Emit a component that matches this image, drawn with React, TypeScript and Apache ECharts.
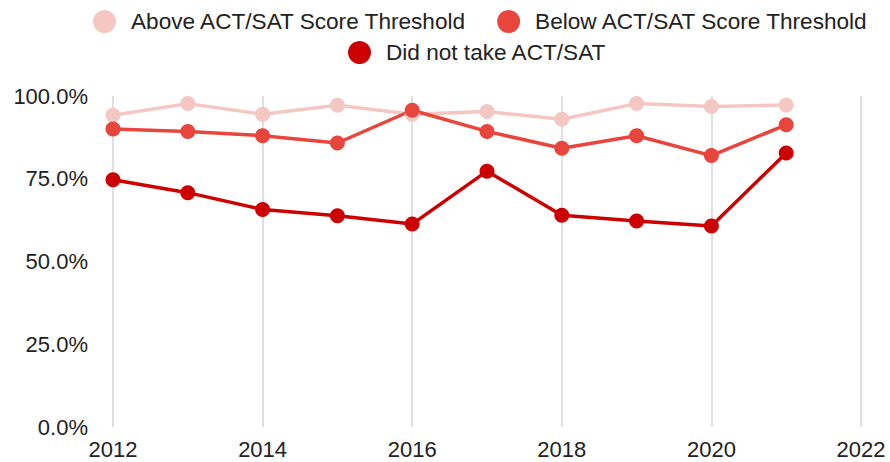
import React, { useEffect, useRef } from "react";
import * as echarts from "echarts";

const years = [2012, 2013, 2014, 2015, 2016, 2017, 2018, 2019, 2020, 2021];
const aboveThreshold = [94.2, 97.7, 94.5, 97.2, 94.5, 95.3, 93.0, 97.7, 96.8, 97.3];
const belowThreshold = [90.0, 89.3, 88.0, 85.8, 95.7, 89.3, 84.2, 88.0, 82.0, 91.3];
const didNotTake = [74.7, 70.8, 65.7, 63.8, 61.3, 77.3, 64.0, 62.2, 60.7, 82.8];
const seriesNames = [
  "Above ACT/SAT Score Threshold",
  "Below ACT/SAT Score Threshold",
  "Did not take ACT/SAT",
];
const colors = ["#f4c7c3", "#e8453c", "#cc0000"];

const FONT = "'Liberation Sans', Arial, sans-serif";

export default function App() {
  const ref = useRef<HTMLDivElement>(null);
  useEffect(() => {
    if (!ref.current) return;
    const chart = echarts.init(ref.current, undefined, { renderer: "svg" });
    const values = [aboveThreshold, belowThreshold, didNotTake];
    const legendCommon = {
      orient: "horizontal" as const,
      itemWidth: 43,
      itemHeight: 23,
      itemGap: 30,
      padding: 0,
      icon: "circle",
      textStyle: { fontSize: 22.6, color: "#222", fontFamily: FONT },
    };
    chart.setOption({
      animation: false,
      color: colors,
      textStyle: { fontFamily: FONT },
      legend: [
        { ...legendCommon, left: 93, top: 10, data: [seriesNames[0], seriesNames[1]] },
        { ...legendCommon, left: 348, top: 41, data: [seriesNames[2]] },
      ],
      grid: { left: 113, right: 29, top: 96, bottom: 35, containLabel: false },
      xAxis: {
        type: "value",
        min: 2012,
        max: 2022,
        interval: 2,
        axisLine: { show: false },
        axisTick: { show: false },
        axisLabel: {
          fontSize: 22,
          color: "#222",
          margin: 11,
          fontFamily: FONT,
          formatter: (v: number) => String(v),
        },
        splitLine: { show: true, lineStyle: { color: "#e0e0e0", width: 2 } },
      },
      yAxis: {
        type: "value",
        min: 0,
        max: 100,
        interval: 25,
        axisLine: { show: false },
        axisTick: { show: false },
        axisLabel: {
          fontSize: 22,
          color: "#222",
          margin: 25,
          fontFamily: FONT,
          formatter: (v: number) => v.toFixed(1) + "%",
        },
        splitLine: { show: false },
      },
      series: values.map((vals, i) => ({
        name: seriesNames[i],
        type: "line",
        data: years.map((y, j) => [y, vals[j]]),
        symbol: "circle",
        symbolSize: 15,
        lineStyle: { width: 3.5, color: colors[i] },
        itemStyle: { color: colors[i] },
      })),
    });
    return () => chart.dispose();
  }, []);
  return (
    <div
      ref={ref}
      style={{ position: "fixed", left: 0, top: 0, width: 890, height: 462, background: "#fff" }}
    />
  );
}
